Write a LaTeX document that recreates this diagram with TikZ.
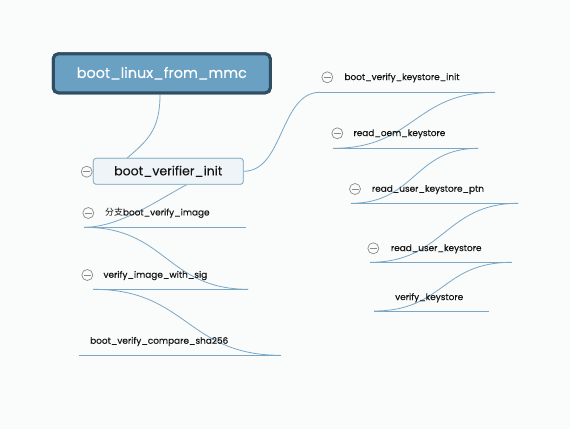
\documentclass[tikz,border=0pt]{standalone}
\usepackage{fontspec}
\setmainfont{Poppins}
\newfontface\lblfont{Poppins}[FakeBold=0.35]
\newfontfamily\cjk{Noto Sans CJK SC}
\definecolor{bg}{HTML}{FAFBFB}
\definecolor{conncol}{HTML}{7AA7C6}
\definecolor{rootfill}{HTML}{6AA1C3}
\definecolor{rootdraw}{HTML}{2F4E62}
\definecolor{subfill}{HTML}{EEF4F8}
\definecolor{subdraw}{HTML}{86AFC9}
\definecolor{txt}{HTML}{141414}
\definecolor{mgray}{HTML}{8A8A8A}
\tikzset{
  conn/.style={draw=conncol, line width=0.8pt},
  uline/.style={draw=conncol, line width=1pt},
  rootbox/.style={draw=rootdraw, fill=rootfill, line width=3pt, rounded corners=5pt,
    text=white, font=\lblfont\fontsize{14.4}{16}\selectfont, inner sep=0pt},
  subbox/.style={draw=subdraw, fill=subfill, line width=0.8pt, rounded corners=3pt,
    text=txt, font=\lblfont\fontsize{12.5}{14}\selectfont, inner sep=0pt},
  lbl/.style={anchor=mid west, inner sep=0pt, text=txt, font=\lblfont\fontsize{8.9}{11}\selectfont},
  minuscirc/.style={circle, draw=mgray, line width=0.7pt, minimum size=11pt, inner sep=0pt,
    path picture={\draw[mgray, line width=0.7pt] ([xshift=-3.5pt]path picture bounding box.center) -- ([xshift=3.5pt]path picture bounding box.center);}},
}
\begin{document}
\begin{tikzpicture}[x=1pt,y=-1pt]
\fill[bg] (0,0) rectangle (570,429);
\useasboundingbox (0,0) rectangle (570,429);

% underline coordinates
\coordinate (kiL) at (320,92.3);   \coordinate (kiR) at (495,92.3);
\coordinate (oeL) at (333.3,148.3); \coordinate (oeR) at (478.3,148.3);
\coordinate (ptL) at (351,203.3);   \coordinate (ptR) at (518.3,203.3);
\coordinate (ukL) at (370,262.3);   \coordinate (ukR) at (511.7,262.3);
\coordinate (vkL) at (374,311);     \coordinate (vkR) at (489.3,311);
\coordinate (viL) at (84.3,227.3);  \coordinate (viR) at (246,227.3);
\coordinate (wsL) at (93.3,289.3);  \coordinate (wsR) at (248.3,289.3);
\coordinate (shL) at (79,355.3);    \coordinate (shR) at (280.7,355.3);

% boxes
\node[rootbox, minimum width=217pt, minimum height=39pt] (root) at (161.8,73.3) {boot\_linux\_from\_mmc};
\node[subbox, minimum width=150pt, minimum height=26pt] (bvi) at (168.3,171.3) {boot\_verifier\_init};

% connectors
\draw[conn] ([xshift=-1.8pt]root.south) .. controls +(0,35) and +(21,-18) .. ([xshift=-41pt]bvi.north);
\draw[conn] (bvi.east) .. controls +(40,0) and +(-40,0) .. (kiL);
\draw[conn] (kiR) .. controls +(-81,0) and +(81,0) .. (oeL);
\draw[conn] (oeR) .. controls +(-64,0) and +(64,0) .. (ptL);
\draw[conn] (ptR) .. controls +(-74,0) and +(74,0) .. (ukL);
\draw[conn] (ukR) .. controls +(-70,0) and +(70,0) .. (vkL);
\draw[conn] ([xshift=18.4pt]bvi.south) .. controls +(-27,14) and +(36,0) .. (viL);
\draw[conn] (viL) .. controls +(82,0) and +(-82,0) .. (wsR);
\draw[conn] (wsL) .. controls +(94,0) and +(-94,0) .. (shR);

% underlines
\draw[uline] (kiL) -- (kiR);
\draw[uline] (oeL) -- (oeR);
\draw[uline] (ptL) -- (ptR);
\draw[uline] (ukL) -- (ukR);
\draw[uline] (vkL) -- (vkR);
\draw[uline] (viL) -- (viR);
\draw[uline] (wsL) -- (wsR);
\draw[uline] (shL) -- (shR);

% redraw boxes above connectors
\node[rootbox, minimum width=217pt, minimum height=39pt] at (root) {boot\_linux\_from\_mmc};
\node[subbox, minimum width=150pt, minimum height=26pt] at (bvi) {boot\_verifier\_init};

% labels
\node[lbl] (ki) at (344.3,77.3) {boot\_verify\_keystore\_init};
\node[lbl] (oe) at (353.3,133.3) {read\_oem\_keystore};
\node[lbl] (pt) at (371.7,189) {read\_user\_keystore\_ptn};
\node[lbl] (uk) at (390.7,248.3) {read\_user\_keystore};
\node[lbl] (vk) at (395,297.3) {verify\_keystore};
\node[lbl] (vi) at (105,212.7) {{\cjk 分支}boot\_verify\_image};
\node[lbl] (ws) at (103.3,275) {verify\_image\_with\_sig};
\node[lbl] (sh) at (90,341) {boot\_verify\_compare\_sha256};

% collapse circles
\node[minuscirc] (cbvi) at (86.7,171.7) {};
\node[minuscirc] (cki) at (327.3,77.3) {};
\node[minuscirc] (coe) at (337.3,133.3) {};
\node[minuscirc] (cpt) at (355,189) {};
\node[minuscirc] (cuk) at (373.3,248.3) {};
\node[minuscirc] (cvi) at (88.3,213) {};
\node[minuscirc] (cws) at (87.3,275) {};
\end{tikzpicture}
\end{document}
